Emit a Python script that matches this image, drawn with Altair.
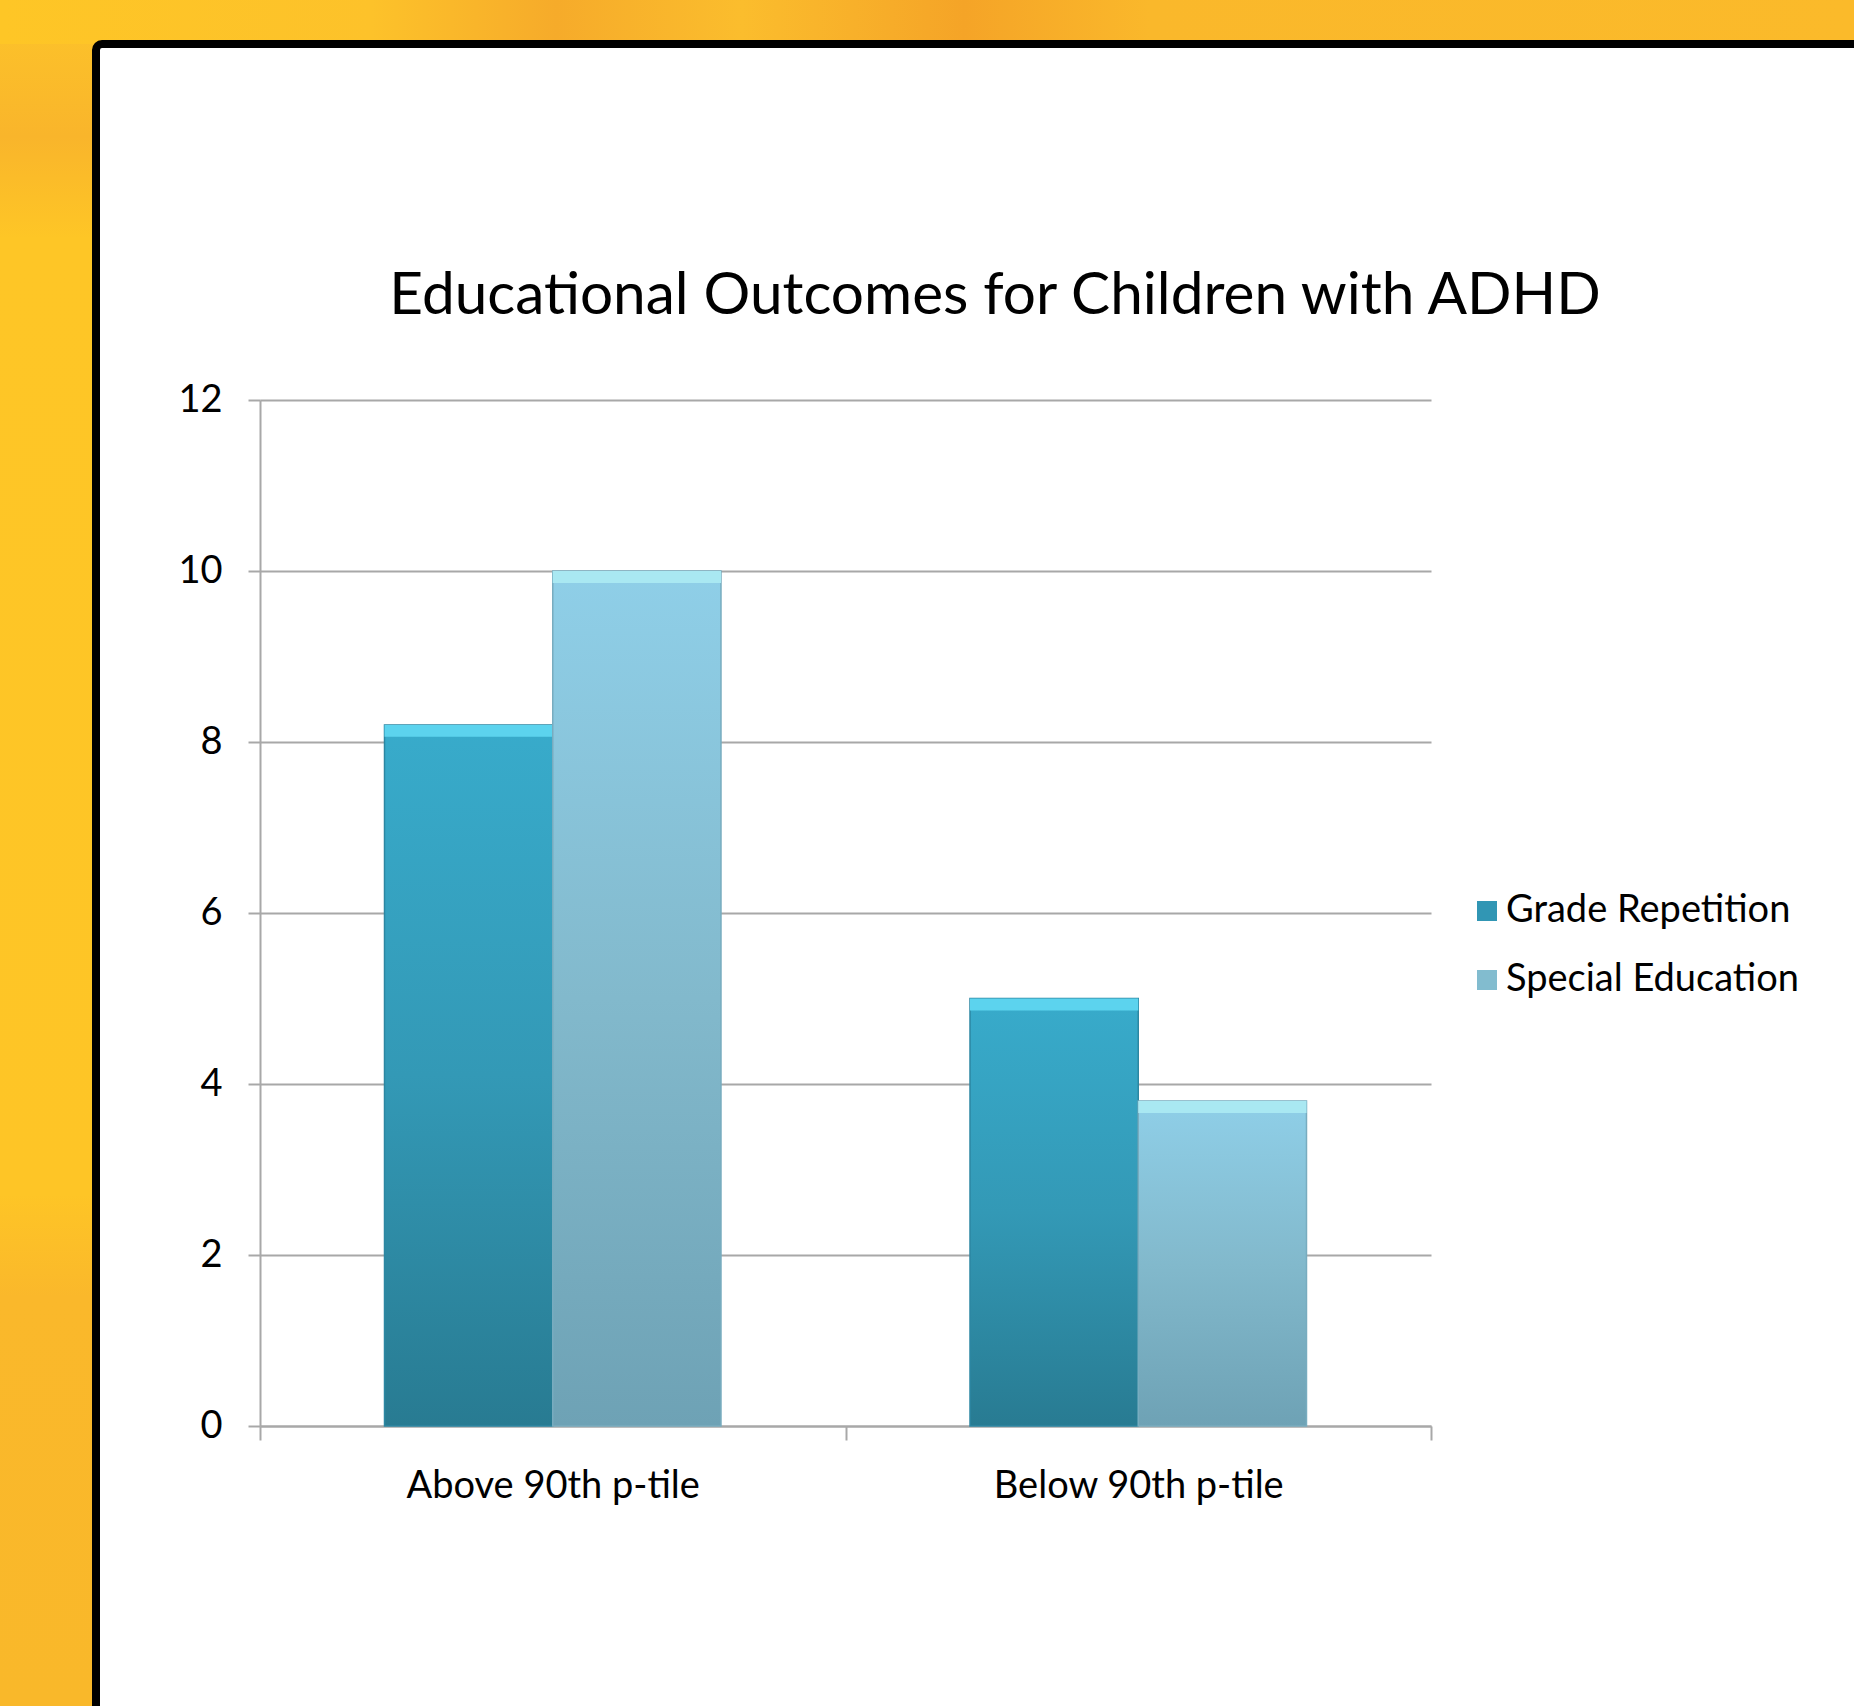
import altair as alt
import pandas as pd

# ---- data ----
categories = ["Above 90th p-tile", "Below 90th p-tile"]
series = ["Grade Repetition", "Special Education"]
grade_repetition = [8.2, 5.0]
special_education = [10.0, 3.8]
y_ticks = [0, 2, 4, 6, 8, 10, 12]
title_text = "Educational Outcomes for Children with ADHD"

rows = []
for i, c in enumerate(categories):
    rows.append({"category": c, "series": series[0], "value": grade_repetition[i]})
    rows.append({"category": c, "series": series[1], "value": special_education[i]})
df = pd.DataFrame(rows)

# ---- layout ----
W, H = 1171, 1026
PAD_L, PAD_T = 260, 400
PAD_R = 1854 - PAD_L - W
PAD_B = 1706 - PAD_T - H
FONT = "Lato"
GRAY = "#a8a8a8"

flat_colors = ["#3196b4", "#82bccf"]
cap_colors = ["#5cd3ee", "#a9e8f2"]
edge_colors = ["#2c87a2", "#78acbf"]
grads = [
    [("#38abcb", 0.0), ("#3399b6", 0.5), ("#287b92", 1.0)],
    [("#8fcfe8", 0.0), ("#82b9cc", 0.5), ("#6ea2b5", 1.0)],
]


def vgrad(stops):
    return alt.LinearGradient(
        gradient="linear",
        x1=0, x2=0, y1=0, y2=1,
        stops=[alt.GradientStop(color=c, offset=o) for c, o in stops],
    )


x_enc = alt.X(
    "category:N",
    scale=alt.Scale(domain=categories, paddingInner=0, paddingOuter=0),
    axis=alt.Axis(
        title=None, labelAngle=0, tickBand="extent", tickSize=14,
        labelPadding=27, grid=False, labelLimit=0,
    ),
)
xo_enc = alt.XOffset(
    "series:N", scale=alt.Scale(domain=series, paddingInner=0, paddingOuter=0.74)
)
y_enc = alt.Y(
    "value:Q",
    scale=alt.Scale(domain=[0, 12], nice=False, zero=True),
    axis=alt.Axis(values=y_ticks, title=None, tickSize=12, labelPadding=26,
                  grid=True, gridColor=GRAY, gridWidth=2),
)

# ---- decorative slide background (outside the plot area) ----
one = pd.DataFrame({"k": [0]})
left_strip = alt.Chart(one).mark_rect(
    fill=vgrad([("#fdc52a", 0.0), ("#f9b52b", 0.08), ("#fec626", 0.14),
                ("#fec526", 0.7), ("#fab82b", 0.76), ("#f9b82a", 1.0)])
).encode(x=alt.value(-PAD_L), x2=alt.value(-164), y=alt.value(-PAD_T), y2=alt.value(H + PAD_B))
top_strip = alt.Chart(one).mark_rect(
    fill=alt.LinearGradient(
        gradient="linear", x1=0, x2=1, y1=0, y2=0,
        stops=[alt.GradientStop(color=c, offset=o) for c, o in [
            ("#fec626", 0.0), ("#fdc22a", 0.2), ("#f6ab2a", 0.3), ("#fbbd2d", 0.4),
            ("#f5a427", 0.52), ("#fab82b", 0.62), ("#fbba2a", 1.0)]],
    )
).encode(x=alt.value(-PAD_L), x2=alt.value(W + PAD_R), y=alt.value(-PAD_T), y2=alt.value(-356))
frame = alt.Chart(one).mark_rect(
    fillOpacity=0, stroke="black", strokeWidth=8, cornerRadius=6
).encode(x=alt.value(-164), x2=alt.value(W + PAD_R + 40), y=alt.value(-356), y2=alt.value(H + PAD_B + 40))

# chart title (drawn as a text mark so the decorative frame does not push it away)
title = alt.Chart(one).mark_text(
    text=title_text, font=FONT, fontSize=58.5, color="black",
    align="center", baseline="alphabetic",
).encode(x=alt.value(995 - PAD_L), y=alt.value(314 - PAD_T))

# ---- bars ----
base = alt.Chart(df).mark_bar().encode(
    x=x_enc, xOffset=xo_enc, y=y_enc,
    color=alt.Color(
        "series:N",
        scale=alt.Scale(domain=series, range=flat_colors),
        legend=alt.Legend(
            title=None, orient="none", legendX=1208, legendY=492,
            symbolType="square", symbolSize=400, symbolStrokeWidth=0,
            labelFont=FONT, labelFontSize=38, labelColor="black", labelLimit=0,
            labelOffset=0, rowPadding=31, padding=0,
        ),
    ),
)

layers = [left_strip, top_strip, frame, title, base]
for i, s in enumerate(series):
    g = alt.Chart(df).transform_filter(alt.datum.series == s).mark_bar(
        fill=vgrad(grads[i]), stroke=edge_colors[i], strokeWidth=1.5
    ).encode(x=x_enc, xOffset=xo_enc, y=y_enc)
    cap = alt.Chart(df).transform_filter(alt.datum.series == s).transform_calculate(
        cap="datum.value - 0.14"
    ).mark_bar(fill=cap_colors[i]).encode(
        x=x_enc, xOffset=xo_enc, y=y_enc, y2="cap:Q"
    )
    layers += [g, cap]

chart = alt.layer(*layers).properties(
    width=W, height=H,
    padding={"left": PAD_L, "top": PAD_T, "right": PAD_R, "bottom": PAD_B},
    autosize=alt.AutoSizeParams(type="none"),
    background="white",
).configure_view(stroke=None).configure_axis(
    domainColor=GRAY, domainWidth=2, tickColor=GRAY, tickWidth=2,
    labelFont=FONT, labelFontSize=38, labelColor="black",
)

chart.save("out.html", embed_options={"renderer": "svg", "actions": False})
